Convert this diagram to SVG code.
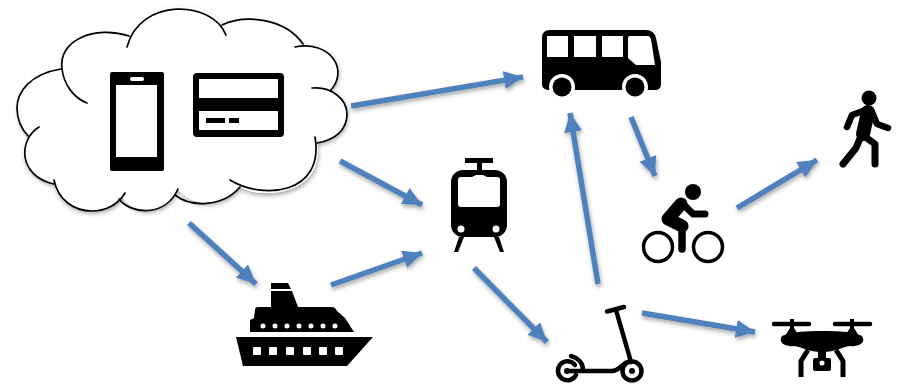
<svg xmlns="http://www.w3.org/2000/svg" width="907" height="384" viewBox="0 0 907 384">
<style>
.k{fill:#000}
.w{fill:#fff}
.l{fill:none;stroke:#000;stroke-linecap:round;stroke-linejoin:round}
.c{fill:none;stroke:#000;stroke-width:1.7;stroke-linecap:round}
.a{fill:none;stroke:#4f81bd;stroke-width:5.500;marker-end:url(#h)}
</style>
<defs>
<marker id="h" markerUnits="userSpaceOnUse" markerWidth="22" markerHeight="20" refX="19" refY="9" orient="auto"><path d="M0 0L19 9L0 18Z" fill="#4f81bd"/></marker>
<filter id="s" x="-10%" y="-10%" width="120%" height="125%"><feDropShadow dx="1" dy="2.500" stdDeviation="2" flood-color="#000" flood-opacity=".35"/></filter>
</defs>
<g id="cloud">
<path class="w" filter="url(#s)" d="M61 69C30 74 17 92 17 108C17 120 22 130 29 137C18 150 22 176 54 184C58 200 74 211 92 211C105 211 118 205 122 196C130 214 165 218 178 189C190 207 222 208 240 187C262 200 325 195 317 143C335 140 347 130 347 114C347 100 340 94 330 91C350 70 330 40 303 44C285 18 245 14 222 25C212 0 140 -3 129 36C95 25 58 40 61 69Z"/>
<path class="c" d="M61 69C30 74 17 92 17 108C17 120 22 130 29 137"/>
<path class="c" d="M39 127C18 140 18 176 54 184"/>
<path class="c" d="M54 180C58 200 74 211 92 211C105 211 118 205 125 193"/>
<path class="c" d="M119 199C130 214 165 218 178 189"/>
<path class="c" d="M175 195C190 207 222 208 240 187"/>
<path class="c" d="M230 180C262 200 325 195 315 137"/>
<path class="c" d="M317 143C335 140 347 130 347 114C347 100 332 86 312 88"/>
<path class="c" d="M330 91C350 70 330 40 295 47"/>
<path class="c" d="M303 44C285 18 245 14 222 25"/>
<path class="c" d="M226 35C212 0 140 -3 127 47"/>
<path class="c" d="M129 36C95 25 58 40 62 69C64 85 74 98 87 103"/>
</g>
<g id="phone">
<rect class="k" x="110" y="72" width="54" height="99" rx="2"/>
<rect class="w" x="116" y="85" width="41" height="72"/>
<rect class="w" x="130" y="77" width="14" height="4" rx="2"/>
</g>
<g id="card">
<rect class="k" x="193" y="73" width="91" height="64" rx="4"/>
<rect class="w" x="199" y="79" width="79" height="19"/>
<rect class="w" x="199" y="111" width="79" height="19"/>
<rect class="k" x="206" y="118" width="19" height="5"/>
<rect class="k" x="229" y="118" width="10" height="5"/>
</g>
<g id="bus">
<path class="k" d="M550 30H646Q654 30 656 38L661 62V84Q661 90 655 90H550Q542 90 542 84V38Q542 30 550 30Z"/>
<rect class="w" x="547" y="36" width="21" height="21"/>
<rect class="w" x="574" y="36" width="22" height="21"/>
<rect class="w" x="602" y="36" width="21" height="21"/>
<path class="w" d="M628 38Q628 36 630 36H648Q650 36 651 39L655 65H636L628 58Z"/>
<circle class="w" cx="562" cy="87" r="13"/><circle class="k" cx="562" cy="87" r="9.500"/>
<circle class="w" cx="635" cy="87" r="13"/><circle class="k" cx="635" cy="87" r="9.500"/>
</g>
<g id="tram">
<rect class="k" x="465" y="158" width="28" height="5"/>
<rect class="k" x="477" y="163" width="5" height="9"/>
<rect class="k" x="451" y="170" width="56" height="67" rx="12"/>
<path class="w" d="M461 177H472L476 175H483L487 177H497Q500 177 500 180V204Q500 207 497 207H461Q458 207 458 204V180Q458 177 461 177Z"/>
<circle class="w" cx="461" cy="229" r="3.500"/><circle class="w" cx="496" cy="229" r="3.500"/>
<path class="k" d="M459 237H464L458 252H454ZM494 237H499L504 252H500Z"/>
</g>
<g id="ship">
<path class="k" d="M271 283H288L291 289H271Z"/>
<path class="k" d="M271 291H292L298 307H332Q335 307 337 311L345 318L354 332H250V320L254 318L255 310Q255 307 258 307H271Z"/>
<g class="w"><circle cx="263" cy="326" r="2.500"/><circle cx="275" cy="326" r="2.500"/><circle cx="287" cy="326" r="2.500"/><circle cx="299" cy="326" r="2.500"/><circle cx="311" cy="326" r="2.500"/><circle cx="323" cy="326" r="2.500"/><circle cx="335" cy="326" r="2.500"/></g>
<path class="k" d="M236 337H373L347 366H243Z"/>
<g class="w"><rect x="253" y="347" width="8" height="8" rx="1"/><rect x="269" y="347" width="8" height="8" rx="1"/><rect x="286" y="347" width="8" height="8" rx="1"/><rect x="303" y="347" width="8" height="8" rx="1"/><rect x="319" y="347" width="8" height="8" rx="1"/><rect x="335" y="347" width="8" height="8" rx="1"/></g>
</g>
<g id="scooter">
<path class="l" stroke-width="4.500" d="M607 311.500L624 307M616 310L631 362"/>
<circle class="l" stroke-width="4.500" cx="632" cy="371" r="9.500"/>
<circle class="k" cx="632" cy="371" r="3"/>
<path class="l" stroke-width="4.500" d="M575 365A9.500 9.500 0 1 0 576 375M567 371H580H612C620 371 620 364 630 361"/>
<circle class="k" cx="567" cy="371" r="3"/>
<path class="l" stroke-width="4.500" d="M571 356C578 358 583 363 583 370"/>
</g>
<g id="drone">
<path class="l" stroke-width="4.500" d="M774 324H809M835 324H870"/>
<path class="k" d="M790 319H794V328L799 336H785L790 328ZM850 319H854V328L859 336H845L850 328Z"/>
<path class="k" d="M782 336C790 332 805 331 822 331C840 331 855 332 862 336C867 344 856 347 850 346C842 347 836 352 822 352C808 352 802 347 794 346C788 347 777 344 782 336Z"/>
<path class="l" stroke-width="5" d="M808 350L801 361V377M836 350L843 361V377" style="stroke-linecap:butt"/>
<rect class="k" x="813" y="358" width="18" height="13" rx="2"/>
<circle class="w" cx="822" cy="363" r="2.500"/>
<rect class="k" x="818" y="350" width="8" height="9"/>
</g>
<g id="cyclist">
<circle class="k" cx="693" cy="192" r="8"/>
<circle class="l" stroke-width="3.500" cx="658" cy="247" r="14.500"/>
<circle class="l" stroke-width="3.500" cx="708" cy="247" r="14.500"/>
<path class="l" stroke-width="13" d="M681 204L668 219L682 226"/>
<path class="l" stroke-width="7.500" d="M682 226V249"/>
<path class="l" stroke-width="7" d="M683 204L693 214H705"/>
</g>
<g id="walker">
<circle class="k" cx="869" cy="98" r="7.500"/>
<path class="l" stroke-width="14" d="M868 112L863 134"/>
<path class="l" stroke-width="6.500" d="M866 110L852 115L847 127M872 112L877 124L888 128"/>
<path class="l" stroke-width="7" d="M861 136L856 148L843 164M864 136L875 144V164"/>
</g>
<g id="connectors" filter="url(#s)">
<path class="a" d="M351 106L523 77"/>
<path class="a" d="M340 161L422 205"/>
<path class="a" d="M189 223L256 284"/>
<path class="a" d="M331 285L422 253"/>
<path class="a" d="M474 268L547 342"/>
<path class="a" d="M598 284L570 113"/>
<path class="a" d="M631 117L655 176"/>
<path class="a" d="M737 208L817 160"/>
<path class="a" d="M642 313L755 332"/>
</g>
</svg>
